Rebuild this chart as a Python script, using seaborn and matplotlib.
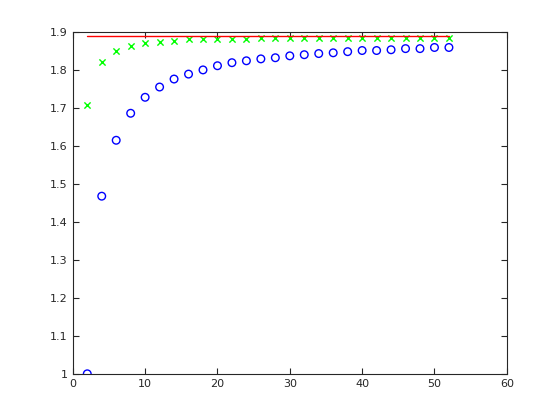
import numpy as np
import matplotlib
matplotlib.use('Agg')
import matplotlib.pyplot as plt
import seaborn as sns

# 데이터
n_vals = [2, 4, 6, 8, 10, 12, 14, 16, 18, 20, 22, 24, 26, 28, 30, 32, 34, 36, 38, 40, 42, 44, 46, 48, 50, 52]
circle_vals = [1.0, 1.467, 1.614, 1.685, 1.727, 1.754, 1.775, 1.788, 1.799, 1.810, 1.818, 1.823, 1.828,
               1.831, 1.836, 1.839, 1.842, 1.844, 1.847, 1.850, 1.850, 1.852, 1.855, 1.855, 1.858, 1.858]
cross_vals = [1.706, 1.820, 1.849, 1.863, 1.869, 1.873, 1.876, 1.879, 1.879, 1.881, 1.881, 1.881, 1.882,
              1.882, 1.883, 1.884, 1.884, 1.884, 1.884, 1.884, 1.884, 1.884, 1.884, 1.884, 1.884, 1.884]
limit_val = 1.8876

sns.set_style("ticks")
plt.rcParams['font.family'] = ['DejaVu Sans']

fig = plt.figure(figsize=(5.6, 4.2), dpi=100)
ax = fig.add_axes([0.13, 0.11, 0.775, 0.815])

ax.plot([n_vals[0], n_vals[-1]], [limit_val, limit_val], color='red', lw=1)
sns.scatterplot(x=n_vals, y=cross_vals, marker='x', color='#00ff00', s=20, linewidth=1, ax=ax)
sns.scatterplot(x=n_vals, y=circle_vals, marker='o', facecolor='none', edgecolor='blue', s=30, linewidth=1, ax=ax)

ax.set_xlim(0, 60)
ax.set_ylim(1, 1.9)
ax.set_xticks(range(0, 61, 10))
ax.set_yticks(np.round(np.arange(1, 1.91, 0.1), 1))
ax.set_yticklabels([f'{v:g}' for v in np.round(np.arange(1, 1.91, 0.1), 1)])
ax.tick_params(direction='in', top=True, right=True, labelsize=8, length=4)
for s in ax.spines.values():
    s.set_visible(True)
    s.set_linewidth(0.8)

plt.savefig('out.png', dpi=100)
plt.close()
